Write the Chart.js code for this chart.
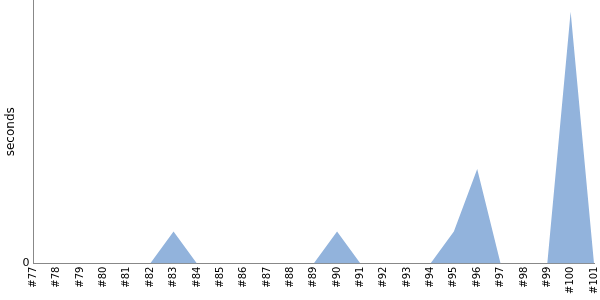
<!DOCTYPE html>
<html>
<head>
<meta charset="utf-8">
<script src="https://cdn.jsdelivr.net/npm/chart.js@4"></script>
<style>
  body { margin: 0; background: #fff; }
  #wrap { width: 600px; height: 300px; }
</style>
</head>
<body>
<div id="wrap"><canvas id="buildChart"></canvas></div>
<script>
const builds = [
  "#77", "#78", "#79", "#80", "#81", "#82", "#83", "#84", "#85", "#86",
  "#87", "#88", "#89", "#90", "#91", "#92", "#93", "#94", "#95", "#96",
  "#97", "#98", "#99", "#100", "#101"
];

const seconds = [
  0, 0, 0, 0, 0, 0, 1, 0, 0, 0,
  0, 0, 0, 1, 0, 0, 0, 0, 1, 2.95,
  0, 0, 0, 7.85, 0
];

const yTicks = [0];

Chart.defaults.font.family = "'DejaVu Sans', sans-serif";
Chart.defaults.color = "#000";

new Chart(document.getElementById("buildChart"), {
  type: "line",
  data: {
    labels: builds,
    datasets: [{
      data: seconds,
      fill: "origin",
      backgroundColor: "rgb(146,179,220)",
      borderWidth: 0,
      pointRadius: 0,
      tension: 0
    }]
  },
  options: {
    responsive: true,
    maintainAspectRatio: false,
    animation: false,
    layout: { padding: { top: 0, right: 6, left: 4, bottom: 3 } },
    plugins: {
      legend: { display: false },
      tooltip: { enabled: false }
    },
    scales: {
      x: {
        offset: false,
        grid: { display: false, drawTicks: false },
        border: { color: "#888" },
        afterFit: axis => {
          axis.paddingRight = 0;
          axis.paddingLeft = 0;
        },
        ticks: {
          autoSkip: false,
          maxRotation: 90,
          minRotation: 90,
          padding: 3,
          font: { size: 10 }
        }
      },
      y: {
        min: 0,
        max: 8.22,
        grid: { display: false, drawTicks: false },
        border: { color: "#888" },
        afterBuildTicks: axis => {
          axis.ticks = yTicks.map(v => ({ value: v }));
        },
        afterFit: axis => {
          axis.paddingTop = 0;
        },
        ticks: {
          padding: 4,
          font: { size: 11 }
        },
        title: {
          display: true,
          text: "seconds",
          font: { size: 12 },
          padding: { top: 0, bottom: 0 }
        }
      }
    }
  }
});
</script>
</body>
</html>
